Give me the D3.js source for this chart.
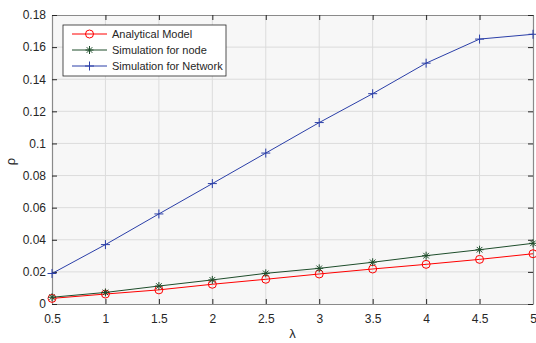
<!DOCTYPE html>
<html>
<head>
<meta charset="utf-8">
<script src="https://cdn.jsdelivr.net/npm/d3@7"></script>
<style>
  body { margin: 0; background: #fff; }
  text { font-family: "Liberation Sans", Arial, sans-serif; }
</style>
</head>
<body>
<div id="chart"></div>
<script>
(function(){

  // lambda values along the x axis
  const lambdas = [0.5, 1, 1.5, 2, 2.5, 3, 3.5, 4, 4.5, 5];
  const analytical = [0.0035, 0.0062, 0.0088, 0.0123, 0.0154, 0.0187, 0.0218, 0.0247, 0.0278, 0.0313];
  const simNode = [0.0042, 0.0072, 0.0112, 0.0150, 0.0191, 0.0222, 0.0260, 0.0301, 0.0338, 0.0378];
  const simNetwork = [0.019, 0.037, 0.0561, 0.075, 0.094, 0.113, 0.131, 0.150, 0.165, 0.168];

  const xTicks = [0.5, 1, 1.5, 2, 2.5, 3, 3.5, 4, 4.5, 5];
  const yTicks = [0, 0.02, 0.04, 0.06, 0.08, 0.1, 0.12, 0.14, 0.16, 0.18];

  const seriesNames = ["Analytical Model", "Simulation for node", "Simulation for Network"];
  const seriesColors = ["#ff0000", "#1e4d2b", "#2b3fa8"];
  const seriesMarkers = ["circle", "star", "plus"];

  const width = 536, height = 343;
  const margin = { top: 15, right: 3, bottom: 39, left: 52 };
  const iw = width - margin.left - margin.right;
  const ih = height - margin.top - margin.bottom;

  const svg = d3.select("#chart").append("svg")
      .attr("width", width)
      .attr("height", height);

  const g = svg.append("g")
      .attr("transform", `translate(${margin.left},${margin.top})`);

  const x = d3.scaleLinear().domain([0.5, 5]).range([0, iw]);
  const y = d3.scaleLinear().domain([0, 0.18]).range([ih, 0]);

  // plot background
  g.append("rect")
      .attr("width", iw).attr("height", ih)
      .attr("fill", "#f7f7f7");

  // grid
  g.append("g").selectAll("line")
      .data(xTicks.slice(1, -1))
      .enter().append("line")
      .attr("x1", d => x(d)).attr("x2", d => x(d))
      .attr("y1", 0).attr("y2", ih)
      .attr("stroke", "#dcdcdc").attr("stroke-width", 1);
  g.append("g").selectAll("line")
      .data(yTicks.slice(1, -1))
      .enter().append("line")
      .attr("y1", d => y(d)).attr("y2", d => y(d))
      .attr("x1", 0).attr("x2", iw)
      .attr("stroke", "#dcdcdc").attr("stroke-width", 1);

  // axes (ticks inward, box on)
  const tickColor = "#262626";
  const xAxis = g.append("g").attr("transform", `translate(0,${ih})`)
      .call(d3.axisBottom(x).tickValues(xTicks).tickSizeInner(-5).tickSizeOuter(0).tickPadding(10)
        .tickFormat(d => d3.format("")(d)));
  const xAxisTop = g.append("g")
      .call(d3.axisTop(x).tickValues(xTicks).tickSizeInner(-5).tickSizeOuter(0).tickFormat(""));
  const yAxis = g.append("g")
      .call(d3.axisLeft(y).tickValues(yTicks).tickSizeInner(-5).tickSizeOuter(0).tickPadding(6)
        .tickFormat(d => d3.format("")(+d.toFixed(2))));
  const yAxisRight = g.append("g").attr("transform", `translate(${iw},0)`)
      .call(d3.axisRight(y).tickValues(yTicks).tickSizeInner(-5).tickSizeOuter(0).tickFormat(""));

  [xAxis, xAxisTop, yAxis, yAxisRight].forEach(a => {
    a.select(".domain").attr("stroke", "#8a8a8a").attr("stroke-width", 1.2);
    a.selectAll(".tick line").attr("stroke", tickColor);
    a.selectAll(".tick text").attr("fill", "#262626").style("font-size", "12px")
      .style("font-family", "'Liberation Sans', Arial, sans-serif");
  });

  // axis labels
  svg.append("text")
      .attr("x", margin.left + iw / 2).attr("y", 338)
      .attr("text-anchor", "middle")
      .attr("fill", "#262626").style("font-size", "13px")
      .text("λ");
  svg.append("text")
      .attr("transform", `translate(15,${margin.top + ih / 2 + 2}) rotate(-90)`)
      .attr("text-anchor", "middle")
      .attr("fill", "#262626").style("font-size", "13px")
      .text("ρ");

  function drawMarker(sel, type, color) {
    if (type === "circle") {
      sel.append("circle").attr("r", 4).attr("fill", "none")
        .attr("stroke", color).attr("stroke-width", 1);
    } else if (type === "star") {
      const s = 4;
      sel.append("path")
        .attr("d", `M${-s},0H${s}M0,${-s}V${s}M${-s*0.7},${-s*0.7}L${s*0.7},${s*0.7}M${-s*0.7},${s*0.7}L${s*0.7},${-s*0.7}`)
        .attr("stroke", color).attr("stroke-width", 1).attr("fill", "none");
    } else {
      const s = 4.5;
      sel.append("path")
        .attr("d", `M${-s},0H${s}M0,${-s}V${s}`)
        .attr("stroke", color).attr("stroke-width", 1).attr("fill", "none");
    }
  }

  const allSeries = [analytical, simNode, simNetwork];
  const line = d3.line().x((d, i) => x(lambdas[i])).y(d => y(d));

  allSeries.forEach((vals, k) => {
    g.append("path")
      .datum(vals)
      .attr("d", line)
      .attr("fill", "none")
      .attr("stroke", seriesColors[k])
      .attr("stroke-width", 1);
    vals.forEach((v, i) => {
      const m = g.append("g").attr("transform", `translate(${x(lambdas[i])},${y(v)})`);
      drawMarker(m, seriesMarkers[k], seriesColors[k]);
    });
  });

  // legend
  const legend = svg.append("g").attr("transform", "translate(63,25)");
  legend.append("rect")
      .attr("width", 163).attr("height", 51)
      .attr("fill", "#fff").attr("stroke", "#262626").attr("stroke-width", 0.8);
  seriesNames.forEach((name, k) => {
    const row = legend.append("g").attr("transform", `translate(0,${9 + k * 16})`);
    row.append("line").attr("x1", 9).attr("x2", 44)
      .attr("stroke", seriesColors[k]).attr("stroke-width", 1);
    drawMarker(row.append("g").attr("transform", "translate(26.5,0)"), seriesMarkers[k], seriesColors[k]);
    row.append("text").attr("x", 49).attr("y", 0).attr("dy", "0.35em")
      .attr("fill", "#262626").style("font-size", "11px")
      .text(name);
  });

})();
</script>
</body>
</html>
